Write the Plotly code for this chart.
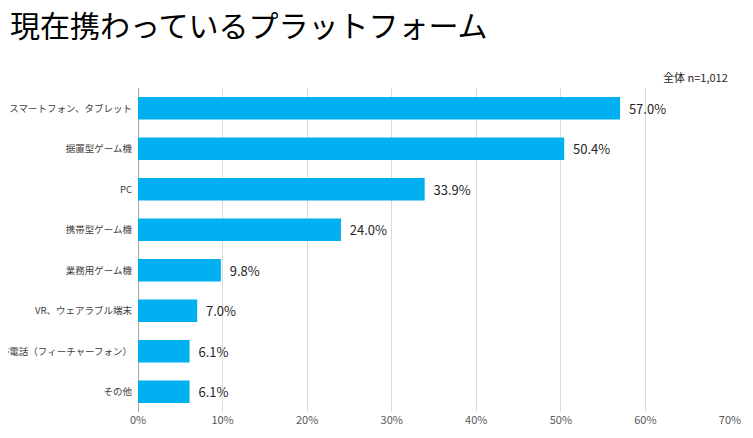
import plotly.graph_objects as go

categories = [
    "スマートフォン、タブレット",
    "据置型ゲーム機",
    "PC",
    "携帯型ゲーム機",
    "業務用ゲーム機",
    "VR、ウェアラブル端末",
    "携帯電話（フィーチャーフォン）",
    "その他",
]
shares = [57.0, 50.4, 33.9, 24.0, 9.8, 7.0, 6.1, 6.1]
x_ticks = [0, 10, 20, 30, 40, 50, 60, 70]
x_tick_labels = ["0%", "10%", "20%", "30%", "40%", "50%", "60%", "70%"]

FONT = "Noto Sans CJK JP"

fig = go.Figure(
    go.Bar(
        x=shares,
        y=categories,
        orientation="h",
        marker=dict(color="#00B0F0", line=dict(width=0)),
        texttemplate="  %{x:.1f}%",
        textposition="outside",
        textfont=dict(size=13, color="#262626", family=FONT),
        cliponaxis=False,
    )
)

# the page body adds 8px on the left and top, so margins are offset by that
fig.update_layout(
    width=753,
    height=438,
    margin=dict(l=130, r=31, t=80, b=34, autoexpand=False),
    paper_bgcolor="white",
    plot_bgcolor="white",
    bargap=0.45,
    showlegend=False,
    font=dict(family=FONT),
    title=dict(
        text="現在携わっているプラットフォーム",
        x=2 / 753,
        xanchor="left",
        xref="container",
        y=1 - 18 / 438,
        yref="container",
        yanchor="middle",
        font=dict(size=30, color="#000000", family=FONT),
    ),
    xaxis=dict(
        range=[0, 70],
        tickvals=x_ticks,
        ticktext=x_tick_labels,
        showgrid=True,
        gridcolor="#d9d9d9",
        gridwidth=1,
        zeroline=True,
        zerolinecolor="#a6a6a6",
        zerolinewidth=1,
        tickfont=dict(size=11, color="#595959"),
        ticks="",
        automargin=False,
    ),
    yaxis=dict(
        autorange="reversed",
        tickfont=dict(size=9.5, color="#404040"),
        ticks="",
        ticklabelstandoff=5,
        automargin=False,
    ),
    annotations=[
        dict(
            text="全体 n=1,012",
            xref="paper", yref="paper",
            x=1, y=1,
            xanchor="right", yanchor="bottom",
            yshift=1,
            showarrow=False,
            font=dict(size=11, color="#262626", family=FONT),
        ),
    ],
)

fig.write_html("out.html")
